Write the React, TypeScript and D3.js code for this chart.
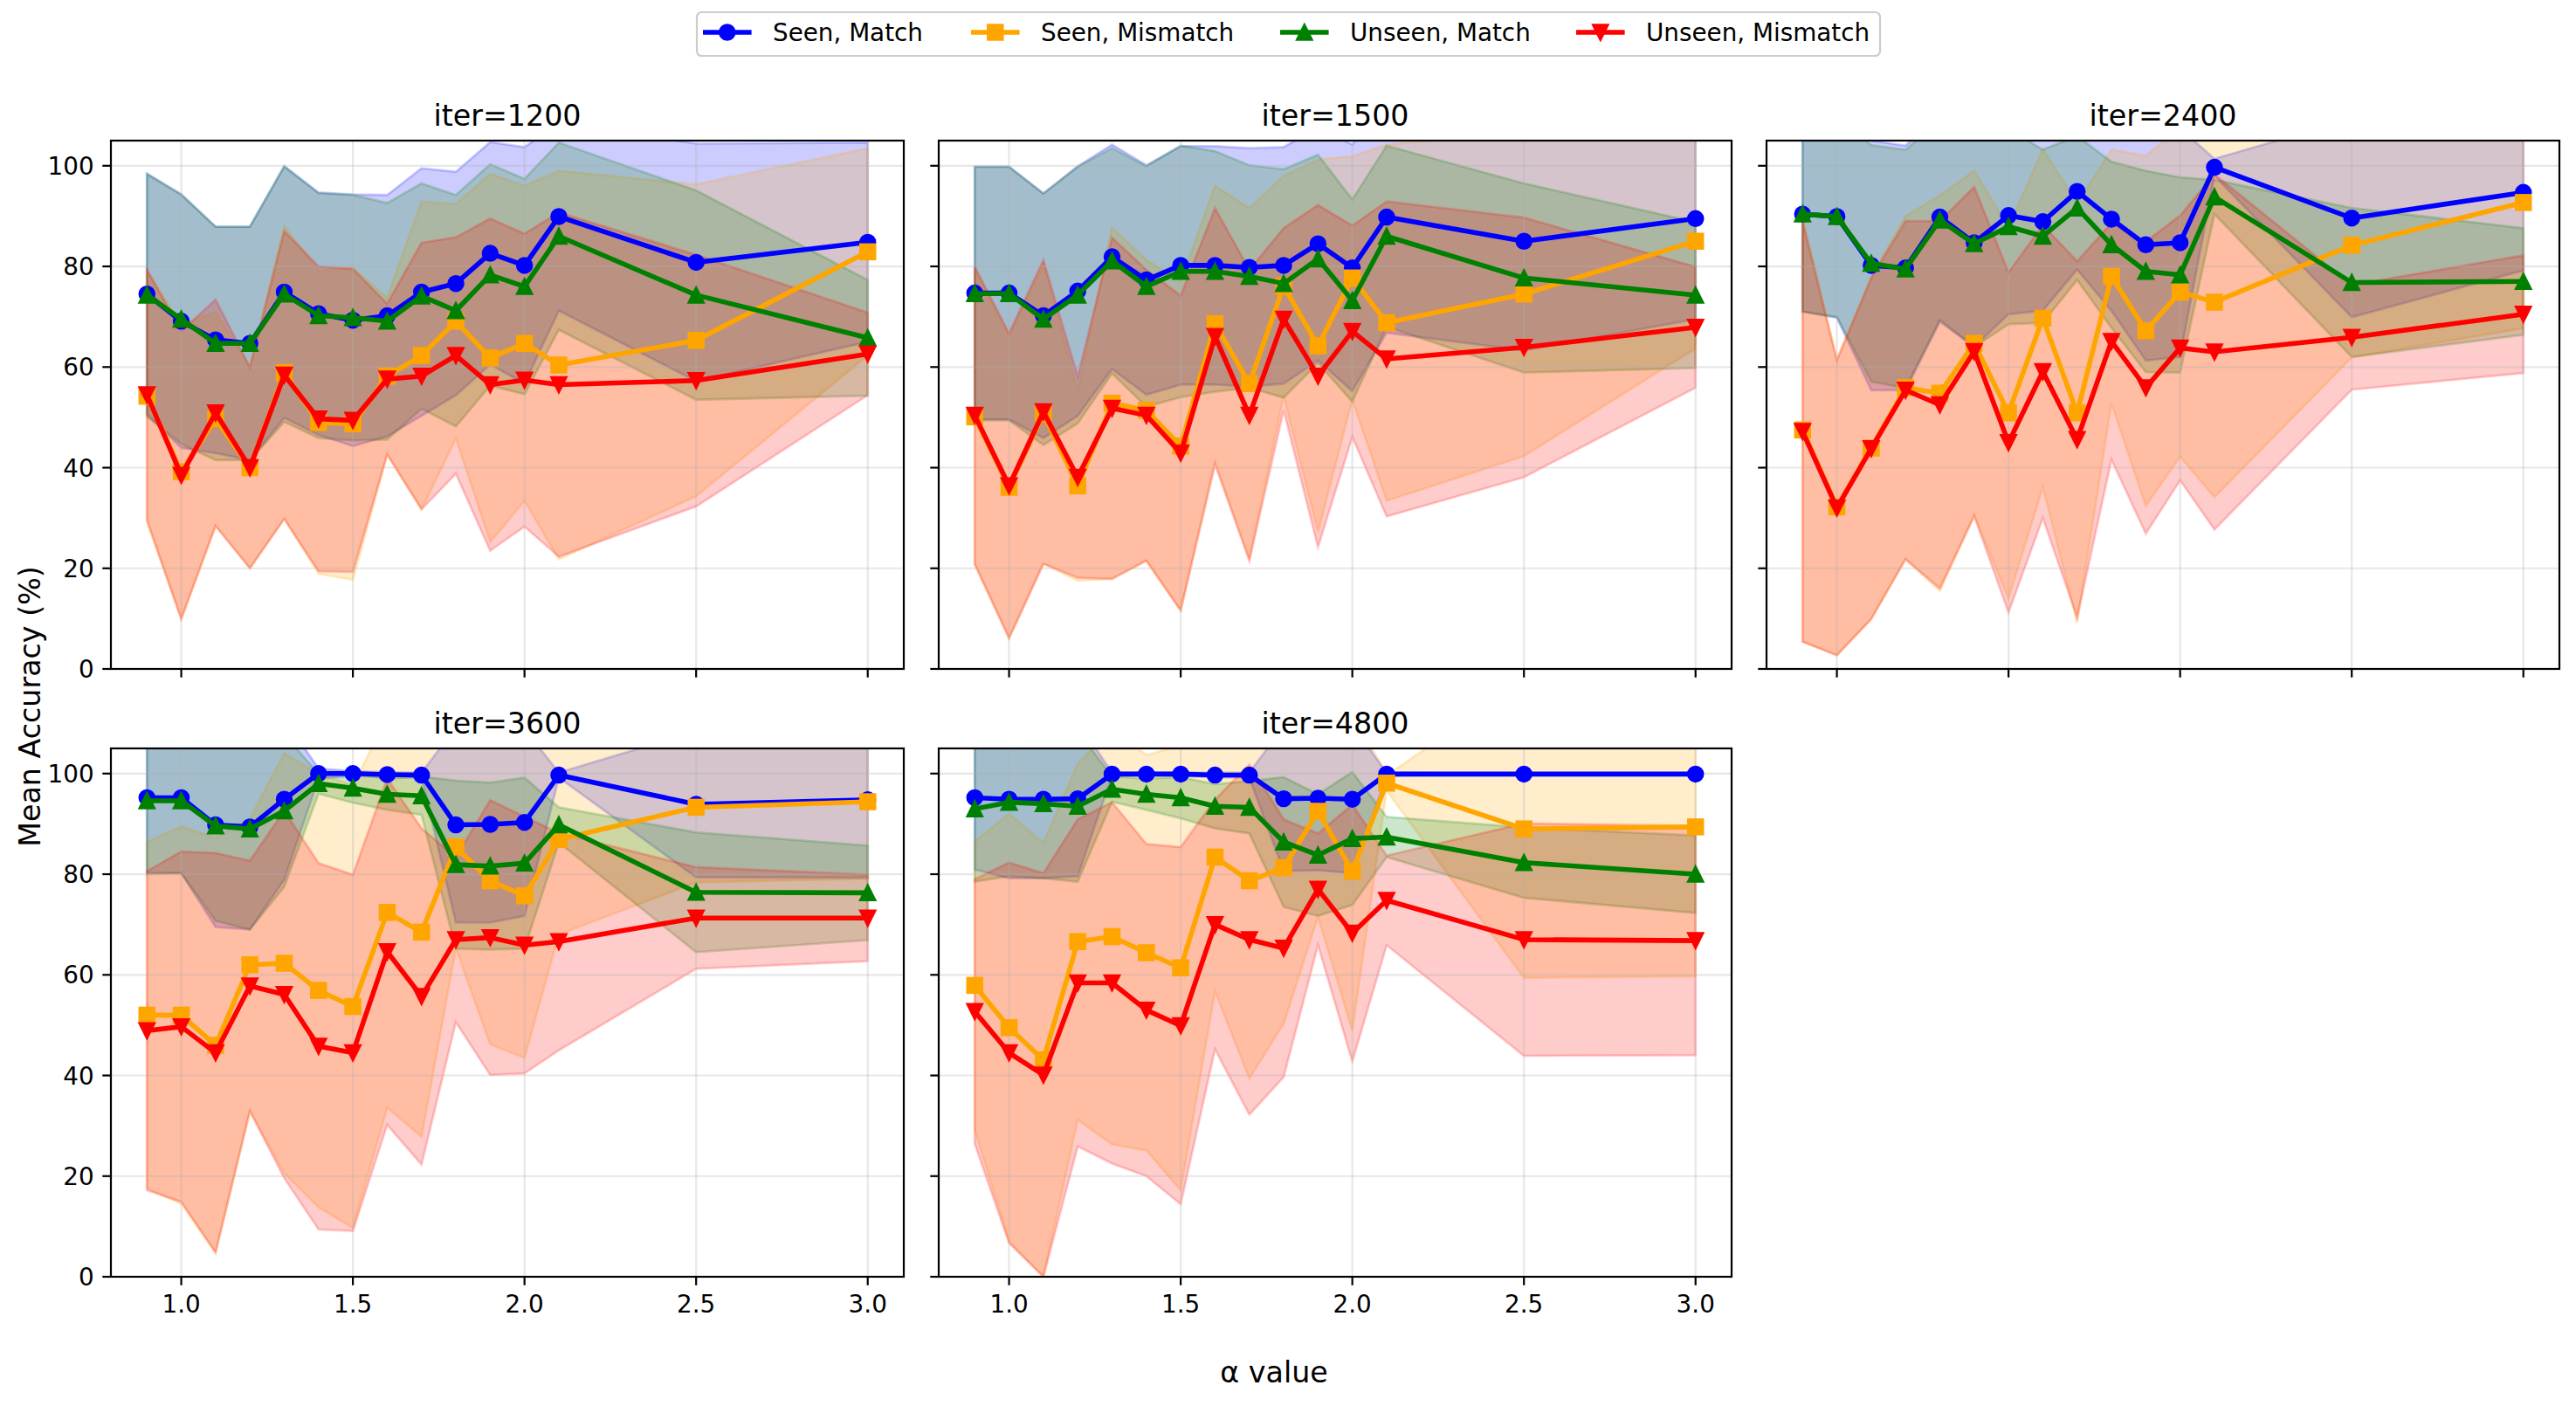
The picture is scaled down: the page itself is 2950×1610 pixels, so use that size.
import React from 'react';
import * as d3 from 'd3';

// x positions (alpha) shared by every panel
const alphaValues = [0.9, 1.0, 1.1, 1.2, 1.3, 1.4, 1.5, 1.6, 1.7, 1.8, 1.9, 2.0, 2.1, 2.5, 3.0];
const iterLabels = ['iter=1200', 'iter=1500', 'iter=2400', 'iter=3600', 'iter=4800'];
const seriesLabels = ['Seen, Match', 'Seen, Mismatch', 'Unseen, Match', 'Unseen, Mismatch'];
const xTicks = [1.0, 1.5, 2.0, 2.5, 3.0];
const yTicks = [0, 20, 40, 60, 80, 100];

// one row per iteration
const seenMatchMean = [
  [74.5, 69.1, 65.4, 64.7, 74.9, 70.6, 69.3, 70.2, 74.9, 76.6, 82.6, 80.2, 89.9, 80.8, 84.8],
  [74.7, 74.7, 70.2, 75.1, 81.9, 77.3, 80.2, 80.2, 79.8, 80.2, 84.5, 79.7, 89.8, 85.0, 89.5],
  [90.4, 89.9, 80.2, 79.7, 89.8, 84.7, 90.1, 88.9, 94.9, 89.4, 84.3, 84.7, 99.7, 89.6, 94.7],
  [95.2, 95.2, 89.8, 89.4, 94.9, 100, 100, 99.8, 99.7, 89.8, 89.9, 90.3, 99.7, 93.9, 94.8],
  [95.2, 94.9, 94.9, 95.0, 99.9, 99.9, 99.9, 99.7, 99.7, 95.0, 95.1, 94.9, 99.9, 99.9, 99.9],
];
const seenMatchStd = [
  [23.9, 25.2, 22.5, 23.2, 25.0, 24.1, 25.0, 24.0, 24.6, 22.2, 22.1, 23.5, 18.7, 23.6, 19.8],
  [25.1, 25.1, 24.3, 24.8, 22.3, 22.8, 23.7, 23.7, 23.7, 23.5, 23.2, 24.5, 23.0, 21.7, 20.0],
  [19.4, 20.1, 24.8, 24.3, 20.8, 20.7, 19.6, 17.7, 15.5, 18.2, 23.0, 22.7, 1.7, 19.7, 15.5],
  [14.9, 15.0, 20.3, 20.4, 16.0, 1.0, 0.5, 0.5, 0.5, 19.4, 19.5, 18.6, 0.5, 14.5, 15.5],
  [14.3, 15.7, 15.7, 15.4, 0.3, 0.3, 0.3, 0.5, 0.5, 14.4, 14.3, 14.7, 0.3, 0.0, 0.0],
];

const seenMismatchMean = [
  [54.2, 39.2, 49.7, 40.0, 58.9, 49.0, 48.7, 58.2, 62.3, 69.1, 61.8, 64.7, 60.4, 65.3, 82.9],
  [50.1, 36.1, 50.7, 36.4, 52.8, 51.4, 44.3, 68.6, 56.7, 76.1, 64.2, 77.7, 68.8, 74.5, 85.0],
  [47.5, 32.2, 43.9, 55.9, 54.8, 64.7, 50.9, 69.7, 50.9, 78.0, 67.2, 74.9, 72.9, 84.2, 92.7],
  [52.0, 52.0, 46.0, 62.0, 62.3, 56.9, 53.7, 72.4, 68.5, 85.4, 78.7, 75.7, 86.9, 93.3, 94.4],
  [57.9, 49.5, 43.1, 66.6, 67.6, 64.4, 61.4, 83.4, 78.7, 81.3, 92.5, 80.6, 98.1, 89.0, 89.4],
];
const seenMismatchStd = [
  [25.0, 29.3, 21.3, 20.0, 29.1, 30.1, 31.0, 15.6, 30.6, 23.3, 36.6, 31.3, 38.6, 31.0, 20.6],
  [29.3, 30.0, 29.8, 18.9, 34.9, 29.9, 32.7, 27.4, 34.9, 21.9, 37.0, 24.2, 35.4, 32.2, 21.3],
  [42.1, 29.5, 34.0, 34.1, 39.3, 34.3, 36.9, 33.6, 41.7, 25.2, 34.8, 32.7, 38.8, 22.3, 25.0],
  [34.4, 37.5, 41.2, 29.1, 41.7, 43.1, 44.0, 38.8, 40.7, 20.1, 32.5, 32.2, 18.9, 14.9, 15.3],
  [28.7, 42.5, 43.1, 35.4, 41.3, 39.3, 44.2, 26.7, 39.3, 31.0, 21.0, 31.7, 1.5, 29.6, 29.7],
];

const unseenMatchMean = [
  [74.3, 69.5, 64.7, 64.7, 74.5, 70.2, 69.8, 69.1, 74.1, 71.2, 78.3, 76.0, 86.0, 74.3, 65.8],
  [74.6, 74.6, 69.5, 74.3, 81.1, 76.0, 79.0, 79.0, 78.0, 76.6, 81.5, 73.2, 86.0, 77.7, 74.3],
  [90.4, 89.9, 80.6, 79.5, 89.2, 84.5, 87.9, 86.0, 91.6, 84.3, 79.0, 78.3, 93.8, 76.8, 77.0],
  [94.6, 94.6, 89.6, 89.0, 92.6, 98.0, 97.1, 95.9, 95.6, 81.9, 81.6, 82.2, 89.8, 76.4, 76.3],
  [93.0, 94.3, 94.0, 93.5, 96.9, 95.9, 95.2, 93.5, 93.3, 86.4, 83.8, 87.1, 87.4, 82.3, 80.0],
];
const unseenMatchStd = [
  [24.1, 24.8, 23.2, 23.2, 25.4, 24.3, 24.4, 23.5, 22.4, 23.0, 22.0, 21.4, 18.6, 20.8, 11.5],
  [25.2, 25.2, 25.0, 25.5, 22.4, 23.9, 25.0, 23.9, 22.1, 22.7, 20.7, 20.1, 18.0, 18.8, 14.5],
  [19.4, 20.0, 23.5, 23.7, 19.8, 20.5, 19.4, 17.2, 14.3, 16.5, 20.0, 19.4, 3.4, 14.8, 10.6],
  [14.6, 14.4, 18.9, 20.0, 15.1, 2.0, 2.9, 3.1, 3.8, 16.7, 16.6, 17.0, 3.5, 11.9, 9.4],
  [14.5, 14.7, 14.8, 15.0, 2.5, 3.1, 4.1, 4.4, 5.2, 12.9, 12.1, 13.2, 4.0, 7.0, 7.7],
];

const unseenMismatchMean = [
  [54.5, 38.5, 50.9, 40.0, 58.4, 49.7, 49.4, 57.6, 58.2, 62.3, 56.5, 57.4, 56.5, 57.3, 62.6],
  [50.4, 36.4, 51.1, 38.1, 51.8, 50.4, 42.9, 66.1, 50.4, 69.5, 58.2, 67.1, 61.6, 63.9, 67.9],
  [47.2, 32.0, 43.8, 55.4, 52.5, 63.1, 45.0, 59.1, 45.6, 65.1, 55.9, 63.8, 63.0, 65.9, 70.5],
  [48.9, 49.7, 44.5, 57.8, 56.1, 45.8, 44.5, 64.6, 55.7, 67.0, 67.4, 65.9, 66.6, 71.3, 71.3],
  [52.7, 44.5, 40.1, 58.4, 58.4, 53.0, 49.9, 70.0, 67.0, 65.3, 77.0, 68.3, 74.8, 67.0, 66.8],
];
const unseenMismatchStd = [
  [24.9, 28.6, 22.5, 20.0, 28.6, 30.3, 30.1, 15.0, 26.5, 23.5, 33.0, 29.1, 34.2, 25.0, 8.2],
  [29.6, 30.3, 30.2, 20.0, 33.9, 28.9, 31.3, 25.5, 28.9, 18.1, 34.0, 21.0, 31.3, 25.8, 12.0],
  [41.8, 29.3, 33.9, 33.6, 36.5, 32.7, 33.8, 29.1, 35.4, 23.5, 29.0, 26.3, 35.3, 10.4, 11.7],
  [31.7, 34.8, 39.7, 24.9, 36.5, 36.4, 35.4, 34.4, 33.4, 16.4, 27.3, 25.5, 21.6, 10.1, 8.6],
  [26.3, 37.8, 40.1, 32.5, 35.9, 33.0, 35.5, 24.8, 34.8, 25.6, 11.1, 25.5, 8.9, 23.1, 22.8],
];

const seriesMeans = [seenMatchMean, seenMismatchMean, unseenMatchMean, unseenMismatchMean];
const seriesStds = [seenMatchStd, seenMismatchStd, unseenMatchStd, unseenMismatchStd];
const colors = ['#0000ff', '#ffa500', '#008000', '#ff0000'];
const markers = ['o', 's', '^', 'v'];

// layout (px)
const W = 2950;
const H = 1610;
const colLeft = [127, 1075, 2023];
const rowTop = [161, 857];
const PW = 908;
const PH = 605;
const FONT = 'DejaVu Sans';
const TICK = 27.8;
const TITLE = 33.3;
const LW = 5.56;
const MS = 16.7;
const MEW = 2.78;

const Marker = ({ kind, cx, cy, color }: { kind: string; cx: number; cy: number; color: string }) => {
  const r = MS / 2;
  const common = { fill: color, stroke: color, strokeWidth: MEW, strokeLinejoin: 'miter' as const };
  if (kind === 'o') return <circle cx={cx} cy={cy} r={r} {...common} />;
  if (kind === 's') return <rect x={cx - r} y={cy - r} width={MS} height={MS} {...common} />;
  if (kind === '^') return <path d={`M${cx},${cy - r}L${cx + r},${cy + r}L${cx - r},${cy + r}Z`} {...common} />;
  return <path d={`M${cx},${cy + r}L${cx + r},${cy - r}L${cx - r},${cy - r}Z`} {...common} />;
};

const App: React.FC = () => {
  const x = d3.scaleLinear().domain([0.795, 3.105]).range([0, PW]);
  const y = d3.scaleLinear().domain([0, 105]).range([PH, 0]);

  const band = d3.area<[number, number, number]>()
    .x(d => x(d[0]))
    .y0(d => y(d[1] - d[2]))
    .y1(d => y(d[1] + d[2]));
  const line = d3.line<[number, number]>()
    .x(d => x(d[0]))
    .y(d => y(d[1]));

  const legendX = [805, 1112, 1466, 1805];

  return (
    <div style={{ position: 'absolute', left: 0, top: 0, background: '#fff' }}>
      <svg width={W} height={H} fontFamily={FONT} style={{ display: 'block' }}>
        <rect width={W} height={H} fill="#fff" />
        {iterLabels.map((label, p) => {
          const col = p % 3;
          const row = Math.floor(p / 3);
          const left = colLeft[col];
          const top = rowTop[row];
          const clipId = `clip-${p}`;
          return (
            <g key={label} transform={`translate(${left},${top})`}>
              <defs>
                <clipPath id={clipId}>
                  <rect x={0} y={0} width={PW} height={PH} />
                </clipPath>
              </defs>
              <g clipPath={`url(#${clipId})`}>
                {seriesMeans.map((means, s) => {
                  const pts = alphaValues.map((a, i) => [a, means[p][i], seriesStds[s][p][i]] as [number, number, number]);
                  return (
                    <path key={s} d={band(pts) ?? ''} fill={colors[s]} fillOpacity={0.2}
                      stroke={colors[s]} strokeOpacity={0.2} strokeWidth={2.78} />
                  );
                })}
                {yTicks.map(t => (
                  <line key={`gy${t}`} x1={0} x2={PW} y1={y(t)} y2={y(t)} stroke="#b0b0b0" strokeOpacity={0.3} strokeWidth={2.2} />
                ))}
                {xTicks.map(t => (
                  <line key={`gx${t}`} x1={x(t)} x2={x(t)} y1={0} y2={PH} stroke="#b0b0b0" strokeOpacity={0.3} strokeWidth={2.2} />
                ))}
                {seriesMeans.map((means, s) => {
                  const pts = alphaValues.map((a, i) => [a, means[p][i]] as [number, number]);
                  return (
                    <g key={s}>
                      <path d={line(pts) ?? ''} fill="none" stroke={colors[s]} strokeWidth={LW}
                        strokeLinejoin="round" strokeLinecap="square" />
                      {pts.map((d, i) => (
                        <Marker key={i} kind={markers[s]} cx={x(d[0])} cy={y(d[1])} color={colors[s]} />
                      ))}
                    </g>
                  );
                })}
              </g>
              <rect x={0} y={0} width={PW} height={PH} fill="none" stroke="#000" strokeWidth={2.2} />
              {xTicks.map(t => (
                <g key={`xt${t}`}>
                  <line x1={x(t)} x2={x(t)} y1={PH} y2={PH + 9.7} stroke="#000" strokeWidth={2.2} />
                  {row === 1 && (
                    <text x={x(t)} y={PH + 41} fontSize={TICK} textAnchor="middle" fill="#000">{t.toFixed(1)}</text>
                  )}
                </g>
              ))}
              {yTicks.map(t => (
                <g key={`yt${t}`}>
                  <line x1={-9.7} x2={0} y1={y(t)} y2={y(t)} stroke="#000" strokeWidth={2.2} />
                  {col === 0 && (
                    <text x={-19.4} y={y(t) + 10} fontSize={TICK} textAnchor="end" fill="#000">{t}</text>
                  )}
                </g>
              ))}
              <text x={PW / 2} y={-16.7} fontSize={TITLE} textAnchor="middle" fill="#000">{label}</text>
            </g>
          );
        })}

        <text x={1459} y={1583} fontSize={TITLE} textAnchor="middle" fill="#000">α value</text>
        <text transform="translate(46,809) rotate(-90)" fontSize={TITLE} textAnchor="middle" fill="#000">Mean Accuracy (%)</text>

        <g>
          <rect x={798} y={14} width={1355} height={50} rx={5.5} fill="#fff" fillOpacity={0.8}
            stroke="#cccccc" strokeWidth={2.2} />
          {seriesLabels.map((lab, s) => (
            <g key={lab}>
              <line x1={legendX[s]} x2={legendX[s] + 55.6} y1={37} y2={37} stroke={colors[s]} strokeWidth={LW} />
              <Marker kind={markers[s]} cx={legendX[s] + 27.8} cy={37} color={colors[s]} />
              <text x={legendX[s] + 80} y={47} fontSize={TICK} fill="#000">{lab}</text>
            </g>
          ))}
        </g>
      </svg>
    </div>
  );
};

export default App;
